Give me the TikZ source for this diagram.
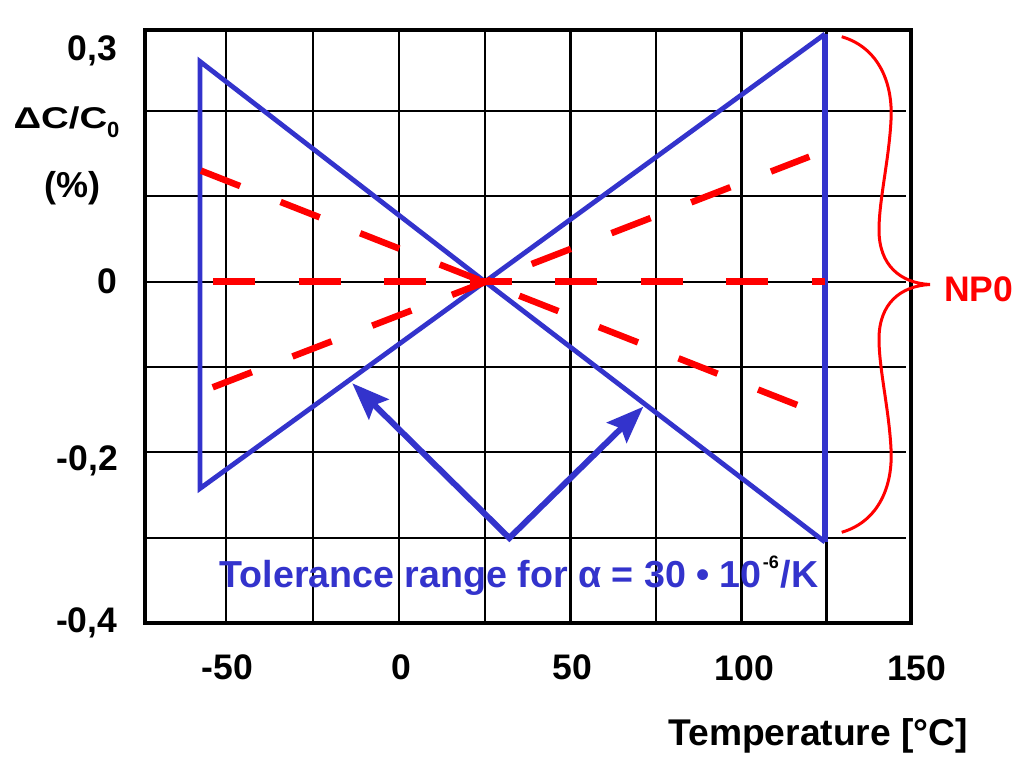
\documentclass[tikz,border=0pt]{standalone}
\usepackage{graphicx}
\usepackage{fontspec}
\setmainfont{Liberation Sans}
\usetikzlibrary{arrows.meta}
\definecolor{tolblue}{RGB}{51,51,204}
\definecolor{npred}{RGB}{255,0,0}
\begin{document}
\begin{tikzpicture}[x=1pt,y=-1pt,
  gridline/.style={line width=2.2pt,black},
  frameline/.style={line width=3.8pt,black},
  triline/.style={line width=4.8pt,tolblue,line join=miter},
  thickblue/.style={line width=6pt,tolblue},
  reddash/.style={line width=6.5pt,npred,dash pattern=on 42pt off 43.5pt},
  bluearrow/.style={line width=6pt,tolblue,line join=miter,
    {Stealth[length=37pt,width=28pt,inset=6pt]}-{Stealth[length=37pt,width=28pt,inset=6pt]}},
  bracecurve/.style={line width=3pt,npred},
  lab/.style={inner sep=0pt,font=\fontsize{35.5}{40}\selectfont\bfseries},
]
\useasboundingbox (0,0) rectangle (1024,768);
\fill[white] (0,0) rectangle (1024,768);

% grid
\foreach \yy in {110.7,196,281.7,367.3,452.3,537.7}
  \draw[gridline] (145,\yy) -- (906,\yy);
\foreach \xx in {226,313.3,399.3,485,570.5,656,741.5,826.5}
  \draw[gridline] (\xx,30) -- (\xx,623);
\draw[frameline] (145,30) rectangle (911,623);

% blue tolerance triangles
\coordinate (C) at (485,281.7);
\coordinate (LT) at (200,61.5);
\coordinate (LB) at (200,488.5);
\coordinate (RT) at (825,34);
\coordinate (RB) at (825,542);
\draw[triline] (LT) -- (LB) -- (C) -- cycle;
\draw[triline] (RB) -- (C) -- (RT);
\draw[thickblue] (RT) -- (RB);

% red dashed lines
\coordinate (H1) at (213.3,281.7);
\coordinate (H2) at (825,281.7);
\coordinate (D1a) at (201,170.7);
\coordinate (D1b) at (797.3,405);
\coordinate (D2a) at (212.7,387.3);
\coordinate (D2b) at (809.3,156.7);
\draw[reddash] (H1) -- (H2);
\draw[reddash] (D1a) -- (D1b);
\draw[reddash] (D2a) -- (D2b);

% blue arrows
\coordinate (AL) at (352.3,383.3);
\coordinate (AB) at (509.3,538);
\coordinate (AR) at (643.3,406.7);
\draw[bluearrow] (AL) -- (AB) -- (AR);

% brace
\coordinate (BT) at (841.7,36.7);
\coordinate (BTip) at (930,284.5);
\coordinate (BB) at (841.7,532.3);
\draw[bracecurve] (BT) .. controls (880,48) and (893,85) .. (891,120)
  .. controls (889,160) and (879,200) .. (879,230)
  .. controls (879,265) and (900,283) .. (BTip)
  .. controls (900,286) and (879,304) .. (879,339)
  .. controls (879,369) and (889,409) .. (891,449)
  .. controls (893,484) and (880,521) .. (BB);

% labels
\node[lab,anchor=base west,text=npred] (np0) at (944,301.7) {NP0};
\node[lab,anchor=base east] (y03) at (117.5,60) {0,3};
\node[lab,anchor=base east] (y0) at (117.5,293) {0};
\node[lab,anchor=base east] (ym02) at (118,470) {-0,2};
\node[lab,anchor=base east] (ym04) at (117.5,632) {-0,4};
\node[inner sep=0pt,anchor=base west,font=\bfseries] (ylab) at (13.3,128)
  {\scalebox{1.28}[1]{\fontsize{30}{34}\selectfont ΔC/C}\raisebox{-9pt}{\fontsize{22}{24}\selectfont 0}};
\node[inner sep=0pt,anchor=base,font=\fontsize{36}{40}\selectfont\bfseries] (pct) at (72.5,197) {(\%)};
\node[lab,anchor=base] (xm50) at (227.5,679) {-50};
\node[lab,anchor=base] (x0) at (401,679) {0};
\node[lab,anchor=base] (x50) at (572,679) {50};
\node[lab,anchor=base] (x100) at (744.5,680) {100};
\node[lab,anchor=base] (x150) at (916.7,680) {150};
\node[inner sep=0pt,anchor=base west,font=\fontsize{37.2}{40}\selectfont\bfseries] (xlab) at (668.3,745) {Temperature [°C]};
\node[inner sep=0pt,anchor=base west,font=\fontsize{37.6}{40}\selectfont\bfseries,text=tolblue] (tol) at (219.3,587)
  {Tolerance range for α = 30 • 10\kern1pt\raisebox{19pt}{\fontsize{18}{20}\selectfont\textcolor{black}{-6}}\kern2pt/K};
\end{tikzpicture}
\end{document}
